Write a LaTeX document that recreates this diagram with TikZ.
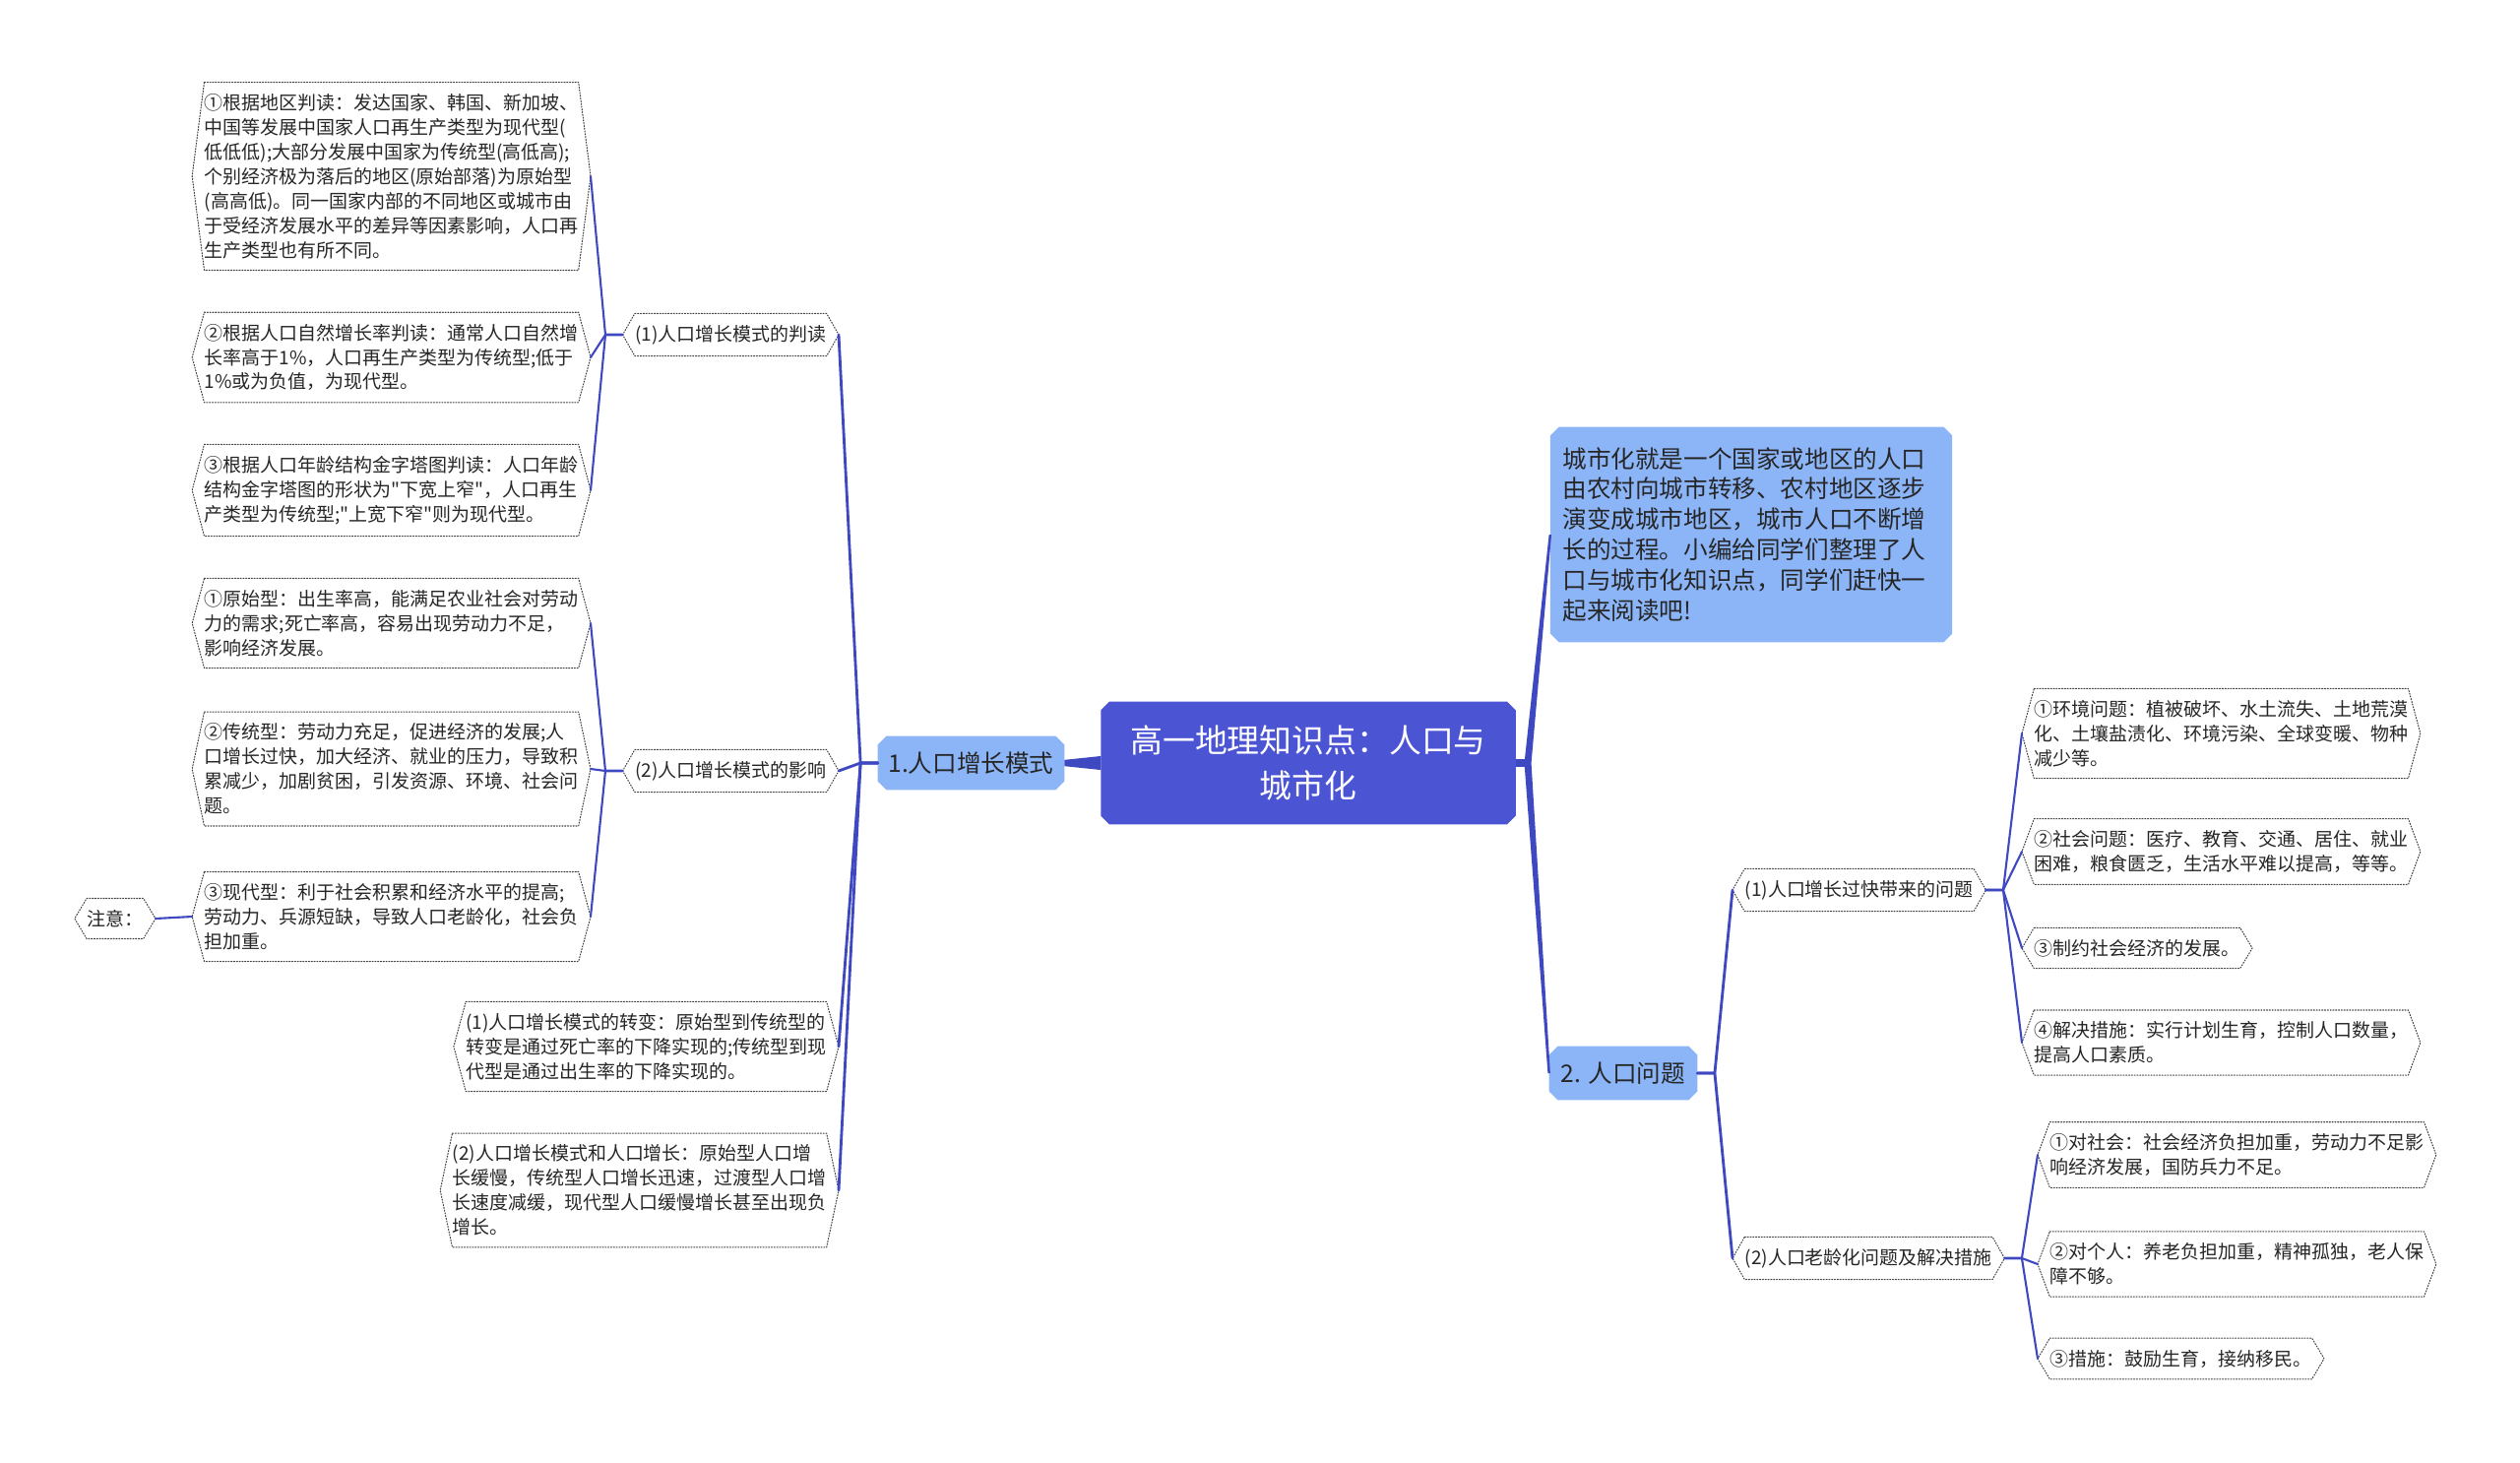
\documentclass[tikz,border=0pt]{standalone}
\usepackage{fontspec}
\setmainfont{Noto Sans CJK SC}[Ligatures=TeXOff]
\usetikzlibrary{backgrounds}
\definecolor{rootblue}{HTML}{4B54D3}
\definecolor{lightblue}{HTML}{8CB5F8}
\definecolor{linkblue}{HTML}{3E48C0}
\definecolor{inkgray}{HTML}{262626}
\begin{document}
\begin{tikzpicture}[x=0.02cm, y=-0.02cm, line join=round, line cap=round,
    leaf/.style={align=left, inner xsep=7pt, inner ysep=6.5pt, text=inkgray,
      font=\fontsize{10.8pt}{14.2pt}\selectfont},
    topic/.style={align=center, inner sep=0pt, text=inkgray,
      font=\fontsize{14pt}{17.6pt}\selectfont, minimum height=30.7pt},
    hexline/.style={densely dotted, line width=0.6pt, black!75},
    link/.style={draw=linkblue, line width=1.2pt},
    trunk/.style={draw=linkblue, line width=1.6pt}]
	\useasboundingbox (0,0) rectangle (2560,1485);
	
	% centre and first level
	\node[align=center, text=white, inner sep=0pt, minimum width=239.5pt, minimum height=70.6pt,
	  font=\fontsize{18.7pt}{26.7pt}\selectfont] (root) at (1329,775) {高一地理知识点：人口与\\城市化};
	\node[topic, minimum width=107.5pt] (growth) at (986.5,775) {1.人口增长模式};
	\node[topic, minimum width=85.4pt] (issue) at (1649,1090) {2. 人口问题};
	\node[align=left, text width=218pt, inner xsep=7pt, inner ysep=11.5pt, text=inkgray,
	  font=\fontsize{14pt}{17.6pt}\selectfont] (intro) at (1779,543) {城市化就是一个国家或地区的人口\\由农村向城市转移、农村地区逐步\\演变成城市地区，城市人口不断增\\长的过程。小编给同学们整理了人\\口与城市化知识点，同学们赶快一\\起来阅读吧!};
	
	% left side
	\node[leaf, anchor=east] (judge) at (852,340) {(1)人口增长模式的判读};
	\node[leaf, anchor=east] (effect) at (852,783) {(2)人口增长模式的影响};
	\node[leaf, anchor=east] (shift) at (852,1063) {(1)人口增长模式的转变：原始型到传统型的\\转变是通过死亡率的下降实现的;传统型到现\\代型是通过出生率的下降实现的。};
	\node[leaf, anchor=east] (rise) at (852,1209) {(2)人口增长模式和人口增长：原始型人口增\\长缓慢，传统型人口增长迅速，过渡型人口增\\长速度减缓，现代型人口缓慢增长甚至出现负\\增长。};
	
	\node[leaf, anchor=east] (region) at (600,179) {①根据地区判读：发达国家、韩国、新加坡、\\中国等发展中国家人口再生产类型为现代型(\\低低低);大部分发展中国家为传统型(高低高);\\个别经济极为落后的地区(原始部落)为原始型\\(高高低)。同一国家内部的不同地区或城市由\\于受经济发展水平的差异等因素影响，人口再\\生产类型也有所不同。};
	\node[leaf, anchor=east] (rate) at (600,363) {②根据人口自然增长率判读：通常人口自然增\\长率高于1\%，人口再生产类型为传统型;低于\\1\%或为负值，为现代型。};
	\node[leaf, anchor=east] (pyramid) at (600,498) {③根据人口年龄结构金字塔图判读：人口年龄\\结构金字塔图的形状为"下宽上窄"，人口再生\\产类型为传统型;"上宽下窄"则为现代型。};
	\node[leaf, anchor=east] (primitive) at (600,633) {①原始型：出生率高，能满足农业社会对劳动\\力的需求;死亡率高，容易出现劳动力不足，\\影响经济发展。};
	\node[leaf, anchor=east] (traditional) at (600,781) {②传统型：劳动力充足，促进经济的发展;人\\口增长过快，加大经济、就业的压力，导致积\\累减少，加剧贫困，引发资源、环境、社会问\\题。};
	\node[leaf, anchor=east] (modern) at (600,931) {③现代型：利于社会积累和经济水平的提高;\\劳动力、兵源短缺，导致人口老龄化，社会负\\担加重。};
	\node[leaf, anchor=east] (note) at (158,933) {注意：};
	
	% right side
	\node[leaf, anchor=west] (rapid) at (1760,904) {(1)人口增长过快带来的问题};
	\node[leaf, anchor=west] (aging) at (1760,1278) {(2)人口老龄化问题及解决措施};
	
	\node[leaf, anchor=west] (env) at (2054,745) {①环境问题：植被破坏、水土流失、土地荒漠\\化、土壤盐渍化、环境污染、全球变暖、物种\\减少等。};
	\node[leaf, anchor=west] (society) at (2054,865) {②社会问题：医疗、教育、交通、居住、就业\\困难，粮食匮乏，生活水平难以提高，等等。};
	\node[leaf, anchor=west] (restrain) at (2054,963) {③制约社会经济的发展。};
	\node[leaf, anchor=west] (measure) at (2054,1059) {④解决措施：实行计划生育，控制人口数量，\\提高人口素质。};
	\node[leaf, anchor=west] (social) at (2070,1173) {①对社会：社会经济负担加重，劳动力不足影\\响经济发展，国防兵力不足。};
	\node[leaf, anchor=west] (personal) at (2070,1284) {②对个人：养老负担加重，精神孤独，老人保\\障不够。};
	\node[leaf, anchor=west] (policy) at (2070,1380) {③措施：鼓励生育，接纳移民。};
	
	% filled boxes
	\begin{scope}[on background layer]
		\fill[white] (0,0) rectangle (2560,1485);
		\foreach \n/\c in {root/rootblue, growth/lightblue, issue/lightblue, intro/lightblue}
			\fill[\c] ([xshift=5pt]\n.north west) -- ([xshift=-5pt]\n.north east) -- ([yshift=-5pt]\n.north east)
			  -- ([yshift=5pt]\n.south east) -- ([xshift=-5pt]\n.south east) -- ([xshift=5pt]\n.south west)
			  -- ([yshift=5pt]\n.south west) -- ([yshift=-5pt]\n.north west) -- cycle;
	\end{scope}
	
	% dotted outlines
	\foreach \n in {judge,effect,shift,rise,region,rate,pyramid,primitive,traditional,modern,note,rapid,aging,env,society,restrain,measure,social,personal,policy}
		\draw[hexline] ([xshift=7pt]\n.north west) -- ([xshift=-7pt]\n.north east) -- (\n.east)
		  -- ([xshift=-7pt]\n.south east) -- ([xshift=7pt]\n.south west) -- (\n.west) -- cycle;
	
	% connectors from the centre
	\coordinate (rj) at ([xshift=7pt]root.east);
	\draw[linkblue, line width=5pt, line cap=butt] (root.east) -- (rj);
	\fill[linkblue] ([yshift=4pt]root.west) -- ([yshift=1.8pt]growth.east) -- ([yshift=-1.8pt]growth.east) -- ([yshift=-4pt]root.west) -- cycle;
	\fill[linkblue] ([xshift=-2pt]rj) -- ([xshift=-0.7pt]intro.west) -- ([xshift=0.7pt]intro.west) -- ([xshift=2pt]rj) -- cycle;
	\fill[linkblue] ([xshift=-2pt]rj) -- ([xshift=-0.7pt]issue.west) -- ([xshift=0.7pt]issue.west) -- ([xshift=2pt]rj) -- cycle;
	
	% left branches
	\draw[trunk] (growth.west) -- ++(-10pt,0) -- (judge.east);
	\draw[trunk] (growth.west) -- ++(-10pt,0) -- (effect.east);
	\draw[trunk] (growth.west) -- ++(-10pt,0) -- (shift.east);
	\draw[trunk] (growth.west) -- ++(-10pt,0) -- (rise.east);
	\draw[link] (judge.west) -- ++(-10pt,0) -- (region.east);
	\draw[link] (judge.west) -- ++(-10pt,0) -- (rate.east);
	\draw[link] (judge.west) -- ++(-10pt,0) -- (pyramid.east);
	\draw[link] (effect.west) -- ++(-10pt,0) -- (primitive.east);
	\draw[link] (effect.west) -- ++(-10pt,0) -- (traditional.east);
	\draw[link] (effect.west) -- ++(-10pt,0) -- (modern.east);
	\draw[link] (modern.west) -- (note.east);
	
	% right branches
	\draw[trunk] (issue.east) -- ++(10pt,0) -- (rapid.west);
	\draw[trunk] (issue.east) -- ++(10pt,0) -- (aging.west);
	\draw[link] (rapid.east) -- ++(10pt,0) -- (env.west);
	\draw[link] (rapid.east) -- ++(10pt,0) -- (society.west);
	\draw[link] (rapid.east) -- ++(10pt,0) -- (restrain.west);
	\draw[link] (rapid.east) -- ++(10pt,0) -- (measure.west);
	\draw[link] (aging.east) -- ++(10pt,0) -- (social.west);
	\draw[link] (aging.east) -- ++(10pt,0) -- (personal.west);
	\draw[link] (aging.east) -- ++(10pt,0) -- (policy.west);
\end{tikzpicture}
\end{document}
